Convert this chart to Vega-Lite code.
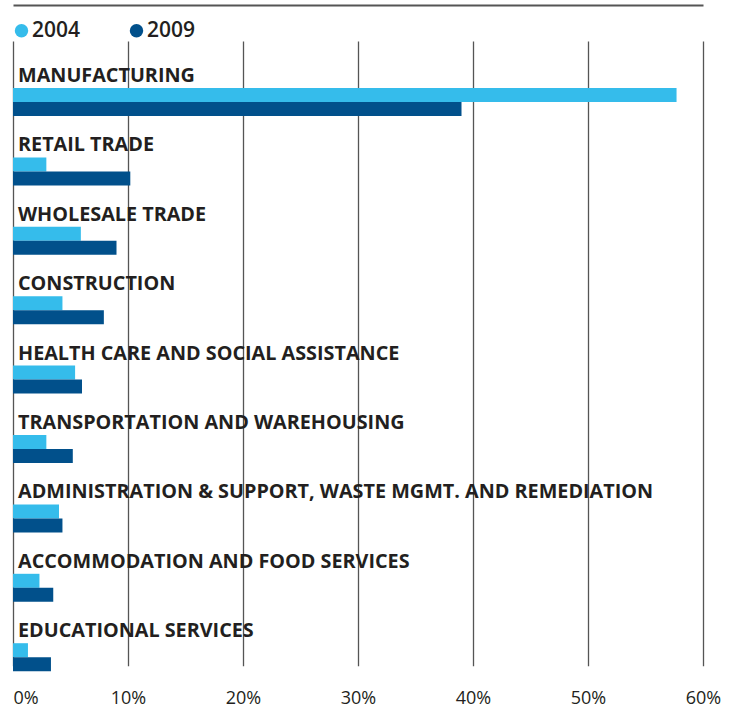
{
  "$schema": "https://vega.github.io/schema/vega-lite/v6.json",
  "width": 690,
  "height": 625,
  "autosize": {"type": "none"},
  "padding": {"left": 13, "top": 54, "right": 35, "bottom": 31},
  "background": "white",
  "config": {
    "view": {"stroke": null},
    "font": "Open Sans"
  },
  "data": {
    "values": [
      {"category": "MANUFACTURING", "year": "2004", "share": 57.7},
      {"category": "MANUFACTURING", "year": "2009", "share": 39.0},
      {"category": "RETAIL TRADE", "year": "2004", "share": 2.9},
      {"category": "RETAIL TRADE", "year": "2009", "share": 10.2},
      {"category": "WHOLESALE TRADE", "year": "2004", "share": 5.9},
      {"category": "WHOLESALE TRADE", "year": "2009", "share": 9.0},
      {"category": "CONSTRUCTION", "year": "2004", "share": 4.3},
      {"category": "CONSTRUCTION", "year": "2009", "share": 7.9},
      {"category": "HEALTH CARE AND SOCIAL ASSISTANCE", "year": "2004", "share": 5.4},
      {"category": "HEALTH CARE AND SOCIAL ASSISTANCE", "year": "2009", "share": 6.0},
      {"category": "TRANSPORTATION AND WAREHOUSING", "year": "2004", "share": 2.9},
      {"category": "TRANSPORTATION AND WAREHOUSING", "year": "2009", "share": 5.2},
      {"category": "ADMINISTRATION & SUPPORT, WASTE MGMT. AND REMEDIATION", "year": "2004", "share": 4.0},
      {"category": "ADMINISTRATION & SUPPORT, WASTE MGMT. AND REMEDIATION", "year": "2009", "share": 4.3},
      {"category": "ACCOMMODATION AND FOOD SERVICES", "year": "2004", "share": 2.3},
      {"category": "ACCOMMODATION AND FOOD SERVICES", "year": "2009", "share": 3.5},
      {"category": "EDUCATIONAL SERVICES", "year": "2004", "share": 1.3},
      {"category": "EDUCATIONAL SERVICES", "year": "2009", "share": 3.3}
    ]
  },
  "encoding": {
    "y": {
      "field": "category",
      "type": "nominal",
      "sort": null,
      "scale": {"range": [13.3, 637.9], "paddingInner": 0, "paddingOuter": 0},
      "axis": null
    }
  },
  "layer": [
    {
      "mark": {"type": "bar", "cornerRadius": 0},
      "encoding": {
        "x": {
          "field": "share",
          "type": "quantitative",
          "scale": {"domain": [0, 60], "nice": false},
          "axis": {
            "orient": "bottom",
            "values": [0, 10, 20, 30, 40, 50, 60],
            "format": ".0f",
            "labelExpr": "datum.label + '%'",
            "title": null,
            "domain": false,
            "ticks": false,
            "grid": true,
            "gridColor": "#555555",
            "gridWidth": 1.3,
            "gridOpacity": 1,
            "labelFontSize": 18,
            "labelColor": "#231f20",
            "labelPadding": 10,
            "labelAlign": {"condition": {"test": "datum.value === 0", "value": "left"}, "value": "center"},
            "labelFont": "Open Sans"
          }
        },
        "yOffset": {
          "field": "year",
          "type": "nominal",
          "scale": {"domain": ["2004", "2009"], "range": [20.7, 48.7], "paddingInner": 0, "paddingOuter": 0}
        },
        "color": {
          "field": "year",
          "type": "nominal",
          "scale": {"domain": ["2004", "2009"], "range": ["#35BCEB", "#01508B"]},
          "legend": {
            "orient": "none",
            "legendX": -2,
            "legendY": -34,
            "direction": "horizontal",
            "title": null,
            "symbolType": "circle",
            "symbolSize": 180,
            "symbolStrokeWidth": 0,
            "symbolOpacity": 1,
            "labelFontSize": 21,
            "labelFontWeight": 600,
            "labelColor": "#231f20",
            "labelOffset": 0,
            "columnPadding": 45,
            "padding": 0
          }
        }
      }
    },
    {
      "mark": {"type": "text", "align": "left", "baseline": "middle", "dx": 5, "dy": -26, "fontSize": 19.8, "fontWeight": 700, "color": "#231f20", "font": "Open Sans"},
      "transform": [{"filter": "datum.year === '2004'"}],
      "encoding": {
        "x": {"datum": 0, "type": "quantitative", "axis": null},
        "text": {"field": "category"}
      }
    },
    {
      "mark": {"type": "rule", "opacity": 0},
      "encoding": {
        "x": {
          "datum": 0,
          "type": "quantitative",
          "axis": {
            "orient": "top",
            "offset": 49,
            "domain": true,
            "domainColor": "#555555",
            "domainWidth": 2,
            "labels": false,
            "ticks": false,
            "grid": false,
            "title": null
          }
        }
      }
    }
  ],
  "resolve": {"axis": {"x": "independent"}}
}
